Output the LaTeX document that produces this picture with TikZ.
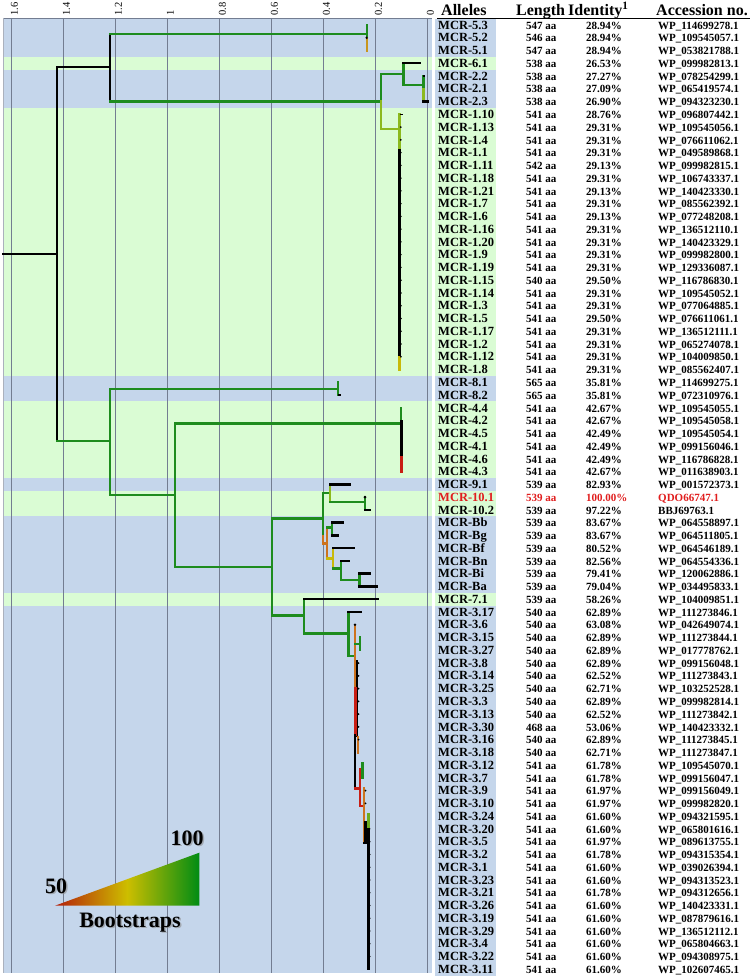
\documentclass[tikz,border=0pt]{standalone}
\usepackage{fontspec}
\setmainfont{Liberation Serif}
\definecolor{bandb}{RGB}{197,214,235}
\definecolor{bandg}{RGB}{218,252,212}
\definecolor{gridc}{RGB}{115,125,145}
\definecolor{cG}{RGB}{30,140,30}
\definecolor{cYG}{RGB}{140,185,30}
\definecolor{cY}{RGB}{200,185,10}
\definecolor{cGo}{RGB}{200,150,30}
\definecolor{cO}{RGB}{205,115,30}
\definecolor{cR}{RGB}{200,30,20}
\definecolor{mcrred}{RGB}{225,30,30}
\definecolor{lgR}{RGB}{180,30,10}
\definecolor{lgY}{RGB}{205,190,0}
\definecolor{lgG}{RGB}{0,140,20}
\begin{document}
\begin{tikzpicture}[x=1pt,y=-1pt,
  br/.style={line width=2.4pt,line cap=rect},
  tick/.style={line width=1.6pt},
  allele/.style={anchor=base west,inner sep=0pt,font=\fontsize{12.5}{12.5}\selectfont\bfseries},
  cell/.style={anchor=base west,inner sep=0pt,font=\fontsize{11}{11}\selectfont\bfseries},
  head/.style={anchor=base west,inner sep=0pt,font=\fontsize{16}{16}\selectfont\bfseries},
  axlab/.style={anchor=west,inner sep=0pt,rotate=90,font=\fontsize{10.5}{10.5}\selectfont},
  big/.style={anchor=base,inner sep=0pt,font=\fontsize{22}{22}\selectfont\bfseries}]
\useasboundingbox (0,0) rectangle (750,976);
\fill[white] (0,0) rectangle (750,976);
% bands
\foreach \s/\e/\col in {1/3/bandb,4/4/bandg,5/7/bandb,8/28/bandg,29/30/bandb,31/36/bandg,37/37/bandb,38/39/bandg,40/45/bandb,46/46/bandg,47/75/bandb}{
  \fill[\col] (3,{18.6+(\s-1)*12.76}) rectangle (432,{min(973,18.6+\e*12.76)});
  \fill[\col] (435,{18.6+(\s-1)*12.76}) rectangle (496,{18.6+\e*12.76});
}
% grid and axis
\foreach \gx/\lab in {427/0,375/0.2,323/0.4,271/0.6,219/0.8,167/1,115/1.2,63/1.4,11/1.6}{
  \draw[gridc,line width=0.8pt] (\gx,18) -- (\gx,973);
  \node[axlab] (ax\gx) at (\gx+3.5,15.5) {\lab};
}
\draw[gridc,line width=0.8pt] (3,18) -- (432,18);
\draw[gridc!60,line width=0.5pt] (3,18) -- (3,973);
% header
\node[head] (hA) at (441,15.5) {Alleles};
\node[head] (hL) at (516,15.5) {Length};
\node[head] (hI) at (568,15.5) {Identity\textsuperscript{1}};
\node[head] (hC) at (656,15.5) {Accession no.};
\draw[line width=1pt] (437,18.3) -- (750,18.3);
% table
\foreach \a/\l/\p/\c [count=\i] in {
MCR-5.3/547/28.94/WP\_114699278.1,
MCR-5.2/546/28.94/WP\_109545057.1,
MCR-5.1/547/28.94/WP\_053821788.1,
MCR-6.1/538/26.53/WP\_099982813.1,
MCR-2.2/538/27.27/WP\_078254299.1,
MCR-2.1/538/27.09/WP\_065419574.1,
MCR-2.3/538/26.90/WP\_094323230.1,
MCR-1.10/541/28.76/WP\_096807442.1,
MCR-1.13/541/29.31/WP\_109545056.1,
MCR-1.4/541/29.31/WP\_076611062.1,
MCR-1.1/541/29.31/WP\_049589868.1,
MCR-1.11/542/29.13/WP\_099982815.1,
MCR-1.18/541/29.31/WP\_106743337.1,
MCR-1.21/541/29.13/WP\_140423330.1,
MCR-1.7/541/29.31/WP\_085562392.1,
MCR-1.6/541/29.13/WP\_077248208.1,
MCR-1.16/541/29.31/WP\_136512110.1,
MCR-1.20/541/29.31/WP\_140423329.1,
MCR-1.9/541/29.31/WP\_099982800.1,
MCR-1.19/541/29.31/WP\_129336087.1,
MCR-1.15/540/29.50/WP\_116786830.1,
MCR-1.14/541/29.31/WP\_109545052.1,
MCR-1.3/541/29.31/WP\_077064885.1,
MCR-1.5/541/29.50/WP\_076611061.1,
MCR-1.17/541/29.31/WP\_136512111.1,
MCR-1.2/541/29.31/WP\_065274078.1,
MCR-1.12/541/29.31/WP\_104009850.1,
MCR-1.8/541/29.31/WP\_085562407.1,
MCR-8.1/565/35.81/WP\_114699275.1,
MCR-8.2/565/35.81/WP\_072310976.1,
MCR-4.4/541/42.67/WP\_109545055.1,
MCR-4.2/541/42.67/WP\_109545058.1,
MCR-4.5/541/42.49/WP\_109545054.1,
MCR-4.1/541/42.49/WP\_099156046.1,
MCR-4.6/541/42.49/WP\_116786828.1,
MCR-4.3/541/42.67/WP\_011638903.1,
MCR-9.1/539/82.93/WP\_001572373.1,
MCR-10.1/539/100.00/QDO66747.1,
MCR-10.2/539/97.22/BBJ69763.1,
MCR-Bb/539/83.67/WP\_064558897.1,
MCR-Bg/539/83.67/WP\_064511805.1,
MCR-Bf/539/80.52/WP\_064546189.1,
MCR-Bn/539/82.56/WP\_064554336.1,
MCR-Bi/539/79.41/WP\_120062886.1,
MCR-Ba/539/79.04/WP\_034495833.1,
MCR-7.1/539/58.26/WP\_104009851.1,
MCR-3.17/540/62.89/WP\_111273846.1,
MCR-3.6/540/63.08/WP\_042649074.1,
MCR-3.15/540/62.89/WP\_111273844.1,
MCR-3.27/540/62.89/WP\_017778762.1,
MCR-3.8/540/62.89/WP\_099156048.1,
MCR-3.14/540/62.52/WP\_111273843.1,
MCR-3.25/540/62.71/WP\_103252528.1,
MCR-3.3/540/62.89/WP\_099982814.1,
MCR-3.13/540/62.52/WP\_111273842.1,
MCR-3.30/468/53.06/WP\_140423332.1,
MCR-3.16/540/62.89/WP\_111273845.1,
MCR-3.18/540/62.71/WP\_111273847.1,
MCR-3.12/541/61.78/WP\_109545070.1,
MCR-3.7/541/61.78/WP\_099156047.1,
MCR-3.9/541/61.97/WP\_099156049.1,
MCR-3.10/541/61.97/WP\_099982820.1,
MCR-3.24/541/61.60/WP\_094321595.1,
MCR-3.20/541/61.60/WP\_065801616.1,
MCR-3.5/541/61.97/WP\_089613755.1,
MCR-3.2/541/61.78/WP\_094315354.1,
MCR-3.1/541/61.60/WP\_039026394.1,
MCR-3.23/541/61.60/WP\_094313523.1,
MCR-3.21/541/61.78/WP\_094312656.1,
MCR-3.26/541/61.60/WP\_140423331.1,
MCR-3.19/541/61.60/WP\_087879616.1,
MCR-3.29/541/61.60/WP\_136512112.1,
MCR-3.4/541/61.60/WP\_065804663.1,
MCR-3.22/541/61.60/WP\_094308975.1,
MCR-3.11/541/61.60/WP\_102607465.1}{
  \pgfmathsetmacro\yy{25+(\i-1)*12.76+4.2}
  \ifnum\i=38 \def\tc{mcrred}\else\def\tc{black}\fi
  \node[allele,text=\tc] (a\i) at (438,\yy) {\a};
  \node[cell,text=\tc] (l\i) at (526,\yy) {\l\ aa};
  \node[cell,text=\tc] (p\i) at (586,\yy) {\p\%};
  \node[cell,text=\tc] (c\i) at (658,\yy) {\c};
}
% ---------- tree ----------
\def\R#1{(25+(#1-1)*12.76)}
% root part
\coordinate (root) at (3,254);
\coordinate (n1) at (56.7,254);
\coordinate (n2) at (110,67.3);
\coordinate (n3) at (110,441);
\draw[br] (root) -- (n1);
\draw[br] (56.7,67.3) -- (56.7,441);
\draw[br] (56.7,67.3) -- (n2);
\draw[br,cG] (56.7,441) -- (n3);
% upper group
\draw[br] (110,34) -- (110,101.7);
\draw[br,cG] (110,34) -- (366.7,34);
\draw[br,cG] (110,101.7) -- (381,101.7);
\draw[br,cG] (366.7,{\R{1}}) -- (366.7,{\R{2}});
\draw[br,cGo] (366.7,{\R{2}}) -- (366.7,{\R{3}});
\fill (366.7,{\R{2}}) circle (1.3);
\draw[br,cG] (381,74) -- (381,101.7);
\draw[br,cYG] (381,101.7) -- (381,129);
\draw[br,cG] (381,74) -- (403.3,74);
\draw[br,cG] (403.3,{\R{4}}) -- (403.3,85);
\draw[br] (403.3,{\R{4}}) -- (419.3,{\R{4}});
\draw[br,cG] (403.3,85) -- (423.3,85);
\draw[br,cG] (423.3,{\R{5}}) -- (423.3,89);
\draw[br,cYG] (423.3,89) -- (423.3,{\R{7}});
\draw[br] (423.3,{\R{7}}) -- (427.7,{\R{7}});
\draw[tick] (423.3,{\R{5}}) -- (425,{\R{5}});
% MCR-1 clade
\draw[br,cYG] (381,129) -- (399.5,129);
\draw[br,cYG] (399.5,{\R{8}}) -- (399.5,150);
\draw[br] (399.5,150) -- (399.5,357);
\draw[br,cY] (399.5,357) -- (399.5,{\R{28}});
\draw[tick] (399.5,{\R{8}}) -- (402.5,{\R{8}});
\foreach \k in {9,...,27}{\fill (400.8,{\R{\k}}) circle (1);}
% lower group
\draw[br,cG] (110,388.7) -- (110,495);
\draw[br,cG] (110,388.7) -- (337.7,388.7);
\draw[br,cG] (337.7,{\R{29}}) -- (337.7,{\R{30}});
\draw[tick] (337.7,{\R{30}}) -- (340.5,{\R{30}});
\draw[br,cG] (110,495) -- (175,495);
\draw[br,cG] (175,423.3) -- (175,566.7);
\draw[br,cG] (175,423.3) -- (401,423.3);
% MCR-4
\draw[br,cG] (401,{\R{31}}) -- (401,421);
\draw[br] (401.5,421) -- (401.5,457);
\draw[br,cR] (401.5,457) -- (401.5,{\R{36}});
% B / 9 / 10 / 7 / 3
\draw[br,cG] (175,566.7) -- (272,566.7);
\draw[br,cG] (272,518.3) -- (272,615.5);
\draw[br,cG] (272,518.3) -- (322.7,518.3);
\draw[br,cG] (322.7,492.7) -- (322.7,536);
\draw[br,cO] (322.7,536) -- (322.7,543.3);
\draw[br,cG] (322.7,492.7) -- (330,492.7);
\draw[br,cYG] (330,{\R{37}}) -- (330,501.7);
\draw[br] (330,{\R{37}}) -- (350,{\R{37}});
\draw[br,cG] (330,501.7) -- (365,501.7);
\draw[br,cG] (365,{\R{38}}) -- (365,{\R{39}});
\fill (365,{\R{38}}) circle (1.6);
\draw[br] (365,{\R{39}}) -- (370,{\R{39}});
\draw[br,cO] (322.7,543.3) -- (326.7,543.3);
\draw[br,cO] (326.7,527.3) -- (326.7,558.3);
\draw[br,cG] (326.7,527.3) -- (331.7,527.3);
\draw[br,cG] (331.7,{\R{40}}) -- (331.7,{\R{41}});
\draw[br] (331.7,{\R{40}}) -- (342.7,{\R{40}});
\draw[br] (331.7,{\R{41}}) -- (338,{\R{41}});
\draw[br,cY] (326.7,558.3) -- (332.7,558.3);
\draw[br,cY] (332.7,{\R{42}}) -- (332.7,568.3);
\draw[br] (332.7,{\R{42}}) -- (353.3,{\R{42}});
\draw[br,cG] (332.7,568.3) -- (340.7,568.3);
\draw[br,cG] (340.7,{\R{43}}) -- (340.7,580);
\draw[br] (340.7,{\R{43}}) -- (348.3,{\R{43}});
\draw[br,cG] (340.7,580) -- (359.3,580);
\draw[br,cG] (359.3,{\R{44}}) -- (359.3,{\R{45}});
\draw[br] (359.3,{\R{44}}) -- (369.3,{\R{44}});
\draw[br] (359.3,{\R{45}}) -- (376.7,{\R{45}});
\draw[br,cG] (272,615.5) -- (304,615.5);
\draw[br,cG] (304,{\R{46}}) -- (304,633.3);
\draw[br] (304,{\R{46}}) -- (377.3,{\R{46}});
\draw[br,cG] (304,633.3) -- (348.3,633.3);
% MCR-3 clade
\draw[br,cG] (348.3,{\R{47}}) -- (348.3,656);
\draw[br] (348.3,{\R{47}}) -- (361,{\R{47}});
\draw[br,cG] (348.3,656) -- (355,656);
\draw[br,cO] (355,{\R{48}}) -- (355,688);
\fill (355,{\R{48}}) circle (1.3);
\draw[br,cG] (355,643.8) -- (360,643.8);
\draw[br,cG] (360,{\R{49}}) -- (360,{\R{50}});
\draw[br] (357,661) -- (357,736);
\draw[br,cR] (355.5,688) -- (355.5,735);
\draw[br,cO] (357.7,737) -- (357.7,{\R{58}});
\foreach \k in {51,...,57}{\fill (358.5,{\R{\k}}) circle (1);}
\draw[br] (355,735) -- (355,788.3);
\draw[br,cR] (355,788.3) -- (360,788.3);
\draw[br,cR] (360,769.3) -- (360,806);
\draw[br,cG] (362.3,{\R{59}-1.5}) -- (362.3,{\R{60}});
\draw[br,cR] (360,806) -- (363.3,806);
\draw[br,cO] (364,788.3) -- (364,842.7);
\draw[br] (365.5,821.7) -- (365.5,842.7);
\draw[br] (364,842.7) -- (368.3,842.7);
\draw[br] (368.3,827) -- (368.3,{\R{75}});
\draw[br,cYG!70!cG] (368.3,{\R{63}-2}) -- (368.3,827);
\foreach \k in {61,62}{\fill (365.5,{\R{\k}}) circle (1);}
\foreach \k in {64,...,74}{\fill (369.6,{\R{\k}}) circle (1);}
% legend
\shade[left color=lgR,right color=lgG,middle color=lgY] (55,905.7) -- (199.3,905.7) -- (199.3,852.7) -- cycle;
\node[big,text=black!45,opacity=0.6] at (57.5,894.5) {50};
\node[big] (l50) at (56,893) {50};
\node[big,text=black!45,opacity=0.6] at (188.5,846.5) {100};
\node[big] (l100) at (187,845) {100};
\node[big,text=black!45,opacity=0.6] at (131.5,928.5) {Bootstraps};
\node[big] (lbs) at (130,927) {Bootstraps};
\end{tikzpicture}
\end{document}
